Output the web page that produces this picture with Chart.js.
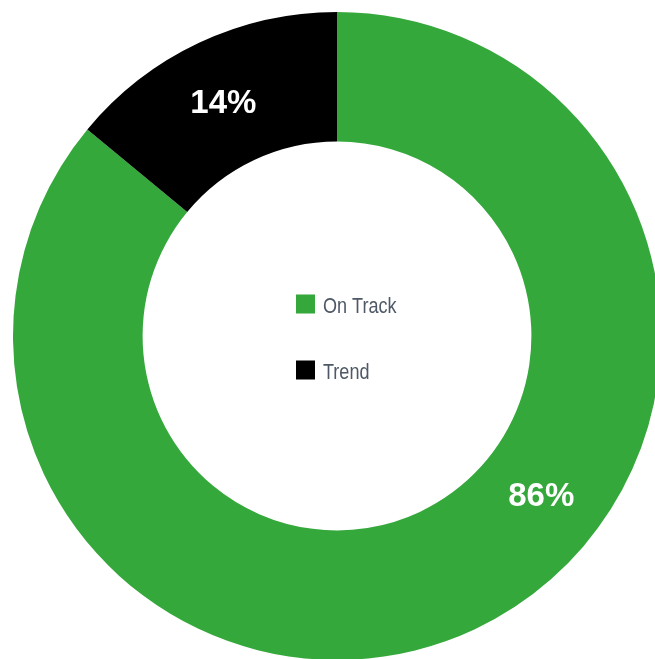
<!DOCTYPE html>
<html>
<head>
<meta charset="utf-8">
<script src="https://cdn.jsdelivr.net/npm/chart.js@4/dist/chart.umd.min.js"></script>
<style>
    html, body { margin: 0; padding: 0; background: #fff; overflow: hidden; width: 655px; height: 659px; }
    #wrap { position: relative; width: 674px; height: 672px; }
</style>
</head>
<body>
<div id="wrap"><canvas id="donut" width="674" height="672"></canvas></div>
<script>
    // chart data
    const categories = ['On Track', 'Trend'];
    const shares = [86, 14];
    const colors = ['#35a83b', '#000000'];
    // where the % labels sit, degrees clockwise from the top
    const labelAngles = [128, 334];

    // draws the % text onto each slice
    const sliceLabels = {
        id: 'sliceLabels',
        afterDatasetsDraw(chart) {
            const ctx = chart.ctx;
            const meta = chart.getDatasetMeta(0);
            ctx.save();
            ctx.fillStyle = '#ffffff';
            ctx.font = 'bold 33px "Liberation Sans", Arial, sans-serif';
            ctx.textAlign = 'center';
            ctx.textBaseline = 'middle';
            meta.data.forEach((arc, i) => {
                const p = arc.getProps(['x', 'y', 'innerRadius', 'outerRadius'], true);
                const r = (p.innerRadius + p.outerRadius) / 2;
                const a = (labelAngles[i] - 90) * Math.PI / 180;
                ctx.fillText(shares[i] + '%', p.x + r * Math.cos(a), p.y + r * Math.sin(a) + 1);
            });
            ctx.restore();
        }
    };

    // legend drawn in the hole of the doughnut
    const centerLegend = {
        id: 'centerLegend',
        afterDraw(chart) {
            const ctx = chart.ctx;
            const arc = chart.getDatasetMeta(0).data[0];
            const cx = arc.x, cy = arc.y;
            const box = 19, gap = 66;
            const left = cx - 41;
            const squeeze = 0.82; // narrow type, no condensed font installed
            ctx.save();
            ctx.font = '22px "Liberation Sans", Arial, sans-serif';
            ctx.textBaseline = 'middle';
            ctx.textAlign = 'left';
            categories.forEach((name, i) => {
                const y = cy - gap / 2 + i * gap + 2;
                ctx.fillStyle = colors[i];
                ctx.fillRect(left, y - box / 2 - 1, box, box);
                ctx.fillStyle = '#4e5866';
                ctx.save();
                ctx.translate(left + box + 8, y + 2);
                ctx.scale(squeeze, 1);
                ctx.fillText(name, 0, 0);
                ctx.restore();
            });
            ctx.restore();
        }
    };

    new Chart(document.getElementById('donut'), {
        type: 'doughnut',
        data: {
            labels: categories,
            datasets: [{
                data: shares,
                backgroundColor: colors,
                borderWidth: 0
            }]
        },
        options: {
            responsive: false,
            animation: false,
            devicePixelRatio: 1,
            cutout: '60%',
            layout: { padding: 12 },
            plugins: {
                legend: { display: false },
                tooltip: { enabled: false }
            }
        },
        plugins: [sliceLabels, centerLegend]
    });
</script>
</body>
</html>
